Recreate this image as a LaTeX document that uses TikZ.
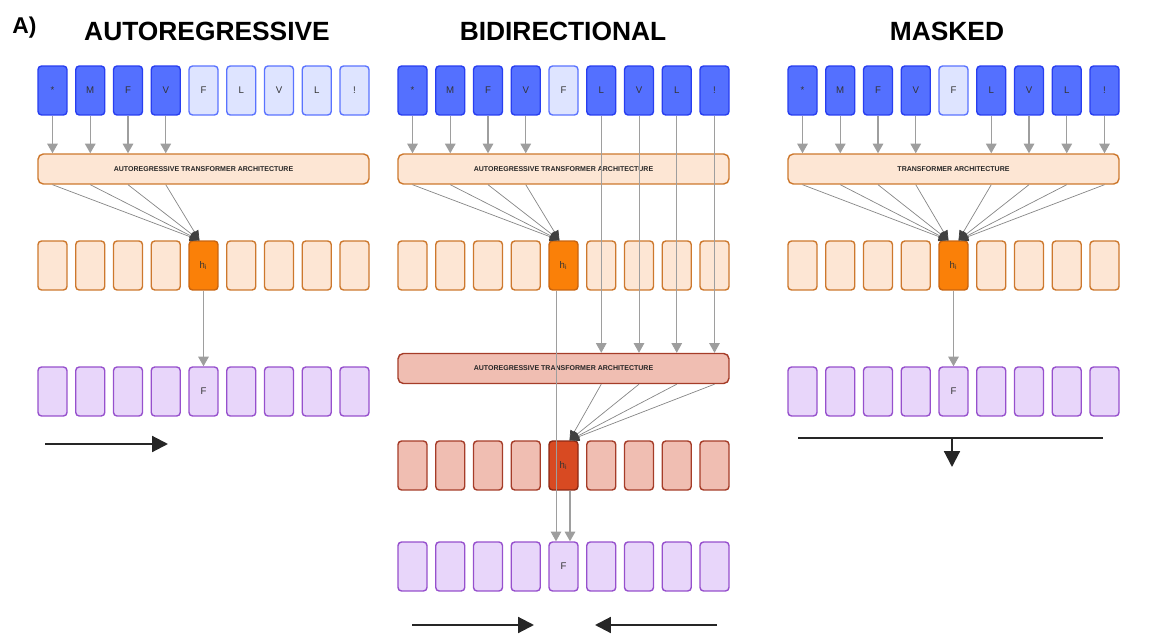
\documentclass[tikz,border=0pt]{standalone}
\usepackage{fontspec}
\setmainfont{Liberation Sans}
\usetikzlibrary{arrows.meta}

\definecolor{tokF}{RGB}{84,112,255}
\definecolor{tokD}{RGB}{40,62,240}
\definecolor{offF}{RGB}{222,228,255}
\definecolor{offD}{RGB}{90,115,255}
\definecolor{hidF}{RGB}{253,230,212}
\definecolor{hidD}{RGB}{205,120,45}
\definecolor{hionF}{RGB}{250,128,8}
\definecolor{hionD}{RGB}{200,100,15}
\definecolor{outF}{RGB}{232,214,250}
\definecolor{outD}{RGB}{150,80,205}
\definecolor{redF}{RGB}{240,190,178}
\definecolor{redD}{RGB}{165,60,40}
\definecolor{redonF}{RGB}{216,74,34}
\definecolor{redonD}{RGB}{140,40,20}
\definecolor{arrgray}{RGB}{158,158,158}

\begin{document}
\begin{tikzpicture}[x=0.02cm,y=-0.02cm,
    cell/.style={draw=#1D, fill=#1F, rounded corners=2pt, line width=0.8pt,
        minimum width=0.58cm, minimum height=0.98cm, inner sep=0pt,
        text=black!80, font=\fontsize{5.5}{6.5}\selectfont},
    arch/.style={draw=#1D, fill=#1F, rounded corners=3pt, line width=0.8pt,
        minimum width=6.62cm, minimum height=0.6cm, inner sep=0pt,
        text=black!85, font=\fontsize{4}{5}\selectfont\bfseries},
    feed/.style={draw=arrgray, line width=0.8pt, -{Triangle[width=6pt,length=5.5pt]}},
    thinfeed/.style={draw=arrgray, line width=0.5pt, -{Triangle[width=6pt,length=5.5pt]}},
    fan/.style={draw=arrgray!85!black, line width=0.4pt, -{Triangle[width=5pt,length=5.5pt,color=black!75]}},
    dirarrow/.style={line width=1.2pt, black!85, -{Triangle[width=9pt,length=9pt]}},
    title/.style={font=\fontsize{15}{18}\selectfont\bfseries, inner sep=0pt, anchor=base}
]
\useasboundingbox (0,0) rectangle (1150,635);

% titles
\node[title, anchor=base west, font=\fontsize{13}{15}\selectfont\bfseries] (lbl) at (12,34) {A)};
\node[title] (ttl1) at (207,41) {AUTOREGRESSIVE};
\node[title] (ttl2) at (563,41) {BIDIRECTIONAL};
\node[title] (ttl3) at (947,41) {MASKED};

% AUTOREGRESSIVE
\foreach \c [count=\i] in {*,M,F,V,F,L,V,L,!} {
    \ifnum\i<5 \def\k{tok}\else\def\k{off}\fi
    \node[cell=\k] (at\i) at ({52.5+(\i-1)*37.75},90.5) {\c};
}
\node[arch=hid] (aarch) at (203.5,169) {AUTOREGRESSIVE TRANSFORMER ARCHITECTURE};
\foreach \i in {1,...,9} {
    \ifnum\i=5 \def\k{hion}\else\def\k{hid}\fi
    \node[cell=\k] (ah\i) at ({52.5+(\i-1)*37.75},265.5) {\ifnum\i=5 h\textsubscript{i}\fi};
    \node[cell=out] (ao\i) at ({52.5+(\i-1)*37.75},391.5) {\ifnum\i=5 F\fi};
}
\foreach \i in {1,...,4}
    \draw[feed] (at\i) -- (aarch.north -| at\i);
\coordinate (aend) at ([xshift=-0.08cm]ah5.north);
\foreach \i in {1,...,4}
    \draw[fan] (aarch.south -| at\i) -- (aend);
\draw[feed] (ah5) -- (ao5);
\coordinate (adl) at (45,444);
\coordinate (adr) at (168,444);
\draw[dirarrow] (adl) -- (adr);

% BIDIRECTIONAL
\foreach \c [count=\i] in {*,M,F,V,F,L,V,L,!} {
    \ifnum\i=5 \def\k{off}\else\def\k{tok}\fi
    \node[cell=\k] (bt\i) at ({412.5+(\i-1)*37.75},90.5) {\c};
}
\node[arch=hid] (barch) at (563.5,169) {AUTOREGRESSIVE TRANSFORMER ARCHITECTURE};
\node[arch=red] (barch2) at (563.5,368.5) {AUTOREGRESSIVE TRANSFORMER ARCHITECTURE};
\foreach \i in {1,...,9} {
    \ifnum\i=5 \def\k{hion}\def\r{redon}\else\def\k{hid}\def\r{red}\fi
    \node[cell=\k] (bh\i) at ({412.5+(\i-1)*37.75},265.5) {\ifnum\i=5 h\textsubscript{i}\fi};
    \node[cell=\r] (bk\i) at ({412.5+(\i-1)*37.75},465.5) {\ifnum\i=5 h\textsubscript{i}\fi};
    \node[cell=out] (bo\i) at ({412.5+(\i-1)*37.75},566.5) {\ifnum\i=5 F\fi};
}
\foreach \i in {1,...,4}
    \draw[feed] (bt\i) -- (barch.north -| bt\i);
\foreach \i in {6,...,9}
    \draw[thinfeed] (bt\i) -- (barch2.north -| bt\i);
\coordinate (bend) at ([xshift=-0.08cm]bh5.north);
\foreach \i in {1,...,4}
    \draw[fan] (barch.south -| bt\i) -- (bend);
\coordinate (bend2) at ([xshift=0.12cm]bk5.north);
\foreach \i in {6,...,9}
    \draw[fan] (barch2.south -| bt\i) -- (bend2);
\draw[thinfeed] ([xshift=-0.15cm]bh5.south) -- ([xshift=-0.15cm]bo5.north);
\draw[feed] ([xshift=0.13cm]bk5.south) -- ([xshift=0.13cm]bo5.north);
\coordinate (bdl) at (412,625);
\coordinate (bdr) at (534,625);
\coordinate (bel) at (595,625);
\coordinate (ber) at (717,625);
\draw[dirarrow] (bdl) -- (bdr);
\draw[dirarrow] (ber) -- (bel);

% MASKED
\foreach \c [count=\i] in {*,M,F,V,F,L,V,L,!} {
    \ifnum\i=5 \def\k{off}\else\def\k{tok}\fi
    \node[cell=\k] (mt\i) at ({802.5+(\i-1)*37.75},90.5) {\c};
}
\node[arch=hid] (march) at (953.5,169) {TRANSFORMER ARCHITECTURE};
\foreach \i in {1,...,9} {
    \ifnum\i=5 \def\k{hion}\else\def\k{hid}\fi
    \node[cell=\k] (mh\i) at ({802.5+(\i-1)*37.75},265.5) {\ifnum\i=5 h\textsubscript{i}\fi};
    \node[cell=out] (mo\i) at ({802.5+(\i-1)*37.75},391.5) {\ifnum\i=5 F\fi};
}
\coordinate (mendl) at ([xshift=-0.1cm]mh5.north);
\coordinate (mendr) at ([xshift=0.1cm]mh5.north);
\foreach \i in {1,2,3,4,6,7,8,9}
    \draw[feed] (mt\i) -- (march.north -| mt\i);
\foreach \i in {1,...,4}
    \draw[fan] (march.south -| mt\i) -- (mendl);
\foreach \i in {6,...,9}
    \draw[fan] (march.south -| mt\i) -- (mendr);
\draw[feed] (mh5) -- (mo5);
\coordinate (mll) at (798,438);
\coordinate (mlr) at (1103,438);
\coordinate (mlm) at (952,438);
\coordinate (mld) at (952,467);
\draw[line width=1.2pt, black!85] (mll) -- (mlr);
\draw[dirarrow] (mlm) -- (mld);
\end{tikzpicture}
\end{document}
